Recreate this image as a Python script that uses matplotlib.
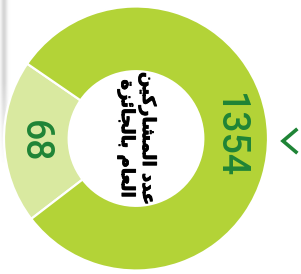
import numpy as np
import matplotlib
matplotlib.use('Agg')
import matplotlib.pyplot as plt
import matplotlib.patheffects as pe

# values shown on the ring
labels = ['1354', '68']
values = [1354, 68]
# share of the ring each slice takes in the picture (not proportional to values)
arc_share = [80, 20]
colors = ['#b3d337', '#d9e9a0']
text_color = '#1f8436'

# centre caption, Arabic in presentation forms (visual order) so it renders joined
line1 = '\ufee6\ufef4\ufedb\ufead\ufe8e\ufeb8\ufee4\ufedf\ufe8d \ufea9\ufeaa\ufecb'
line2 = '\ufe93\ufeb0\ufe8b\ufe8e\ufea0\ufedf\ufe8e\ufe91 \ufee1\ufe8e\ufecc\ufedf\ufe8d'

W, H, dpi = 301, 274, 100
cx, cy, R = 136, 138.5, 132  # pixel centre / radius of the ring

fig = plt.figure(figsize=(W / dpi, H / dpi), dpi=dpi)
ax = fig.add_axes([0, 0, 1, 1])
ax.axis('off')

# faint grey shadow along the left edge
xs = np.linspace(0, 1, 60)
ys = np.linspace(0, 1, 120)
gx = np.exp(-((xs - 0.15) / 0.12) ** 2)
gy = np.clip((0.6 - ys) / 0.3, 0, 1)
img = np.zeros((len(ys), len(xs), 4))
img[..., :3] = 0.45
img[..., 3] = np.outer(gy, gx) * 0.3
ax.imshow(img, extent=(-cx / R, -cx / R + 25 / R, -(H - cy) / R, cy / R),
          origin='upper', aspect='auto', zorder=0)

# small slice first, starting at the upper separator
wedges, _ = ax.pie(arc_share[::-1], colors=colors[::-1], startangle=145.5,
                   counterclock=True, radius=1,
                   wedgeprops=dict(width=0.49, edgecolor='white', linewidth=1.6))
ax.set_xlim(-cx / R, (W - cx) / R)
ax.set_ylim(-(H - cy) / R, cy / R)
ax.set_aspect('auto')

label_r = {'1354': 0.71, '68': 0.77}
for w, lab in zip(wedges, labels[::-1]):
    mid = np.deg2rad((w.theta1 + w.theta2) / 2)
    r = label_r[lab]
    ax.text(r * np.cos(mid), r * np.sin(mid), lab, rotation=-90,
            ha='center', va='center', color=text_color,
            fontsize=27, family='Roboto', fontweight='medium')

cap = ax.text(0.01, 0.0, line1 + '\n' + line2, rotation=-90, ha='center', va='center',
              multialignment='center', fontsize=13, fontweight='bold',
              family='DejaVu Sans', color='black', linespacing=1.2)
cap.set_path_effects([pe.withStroke(linewidth=0.6, foreground='black')])

# chevron on the right
fig.lines.append(plt.Line2D([296 / W, 283 / W, 296 / W],
                            [1 - 130 / H, 1 - 141 / H, 1 - 152 / H],
                            transform=fig.transFigure, color=text_color,
                            linewidth=2.6, solid_joinstyle='miter'))

fig.savefig('out.png', dpi=dpi)
